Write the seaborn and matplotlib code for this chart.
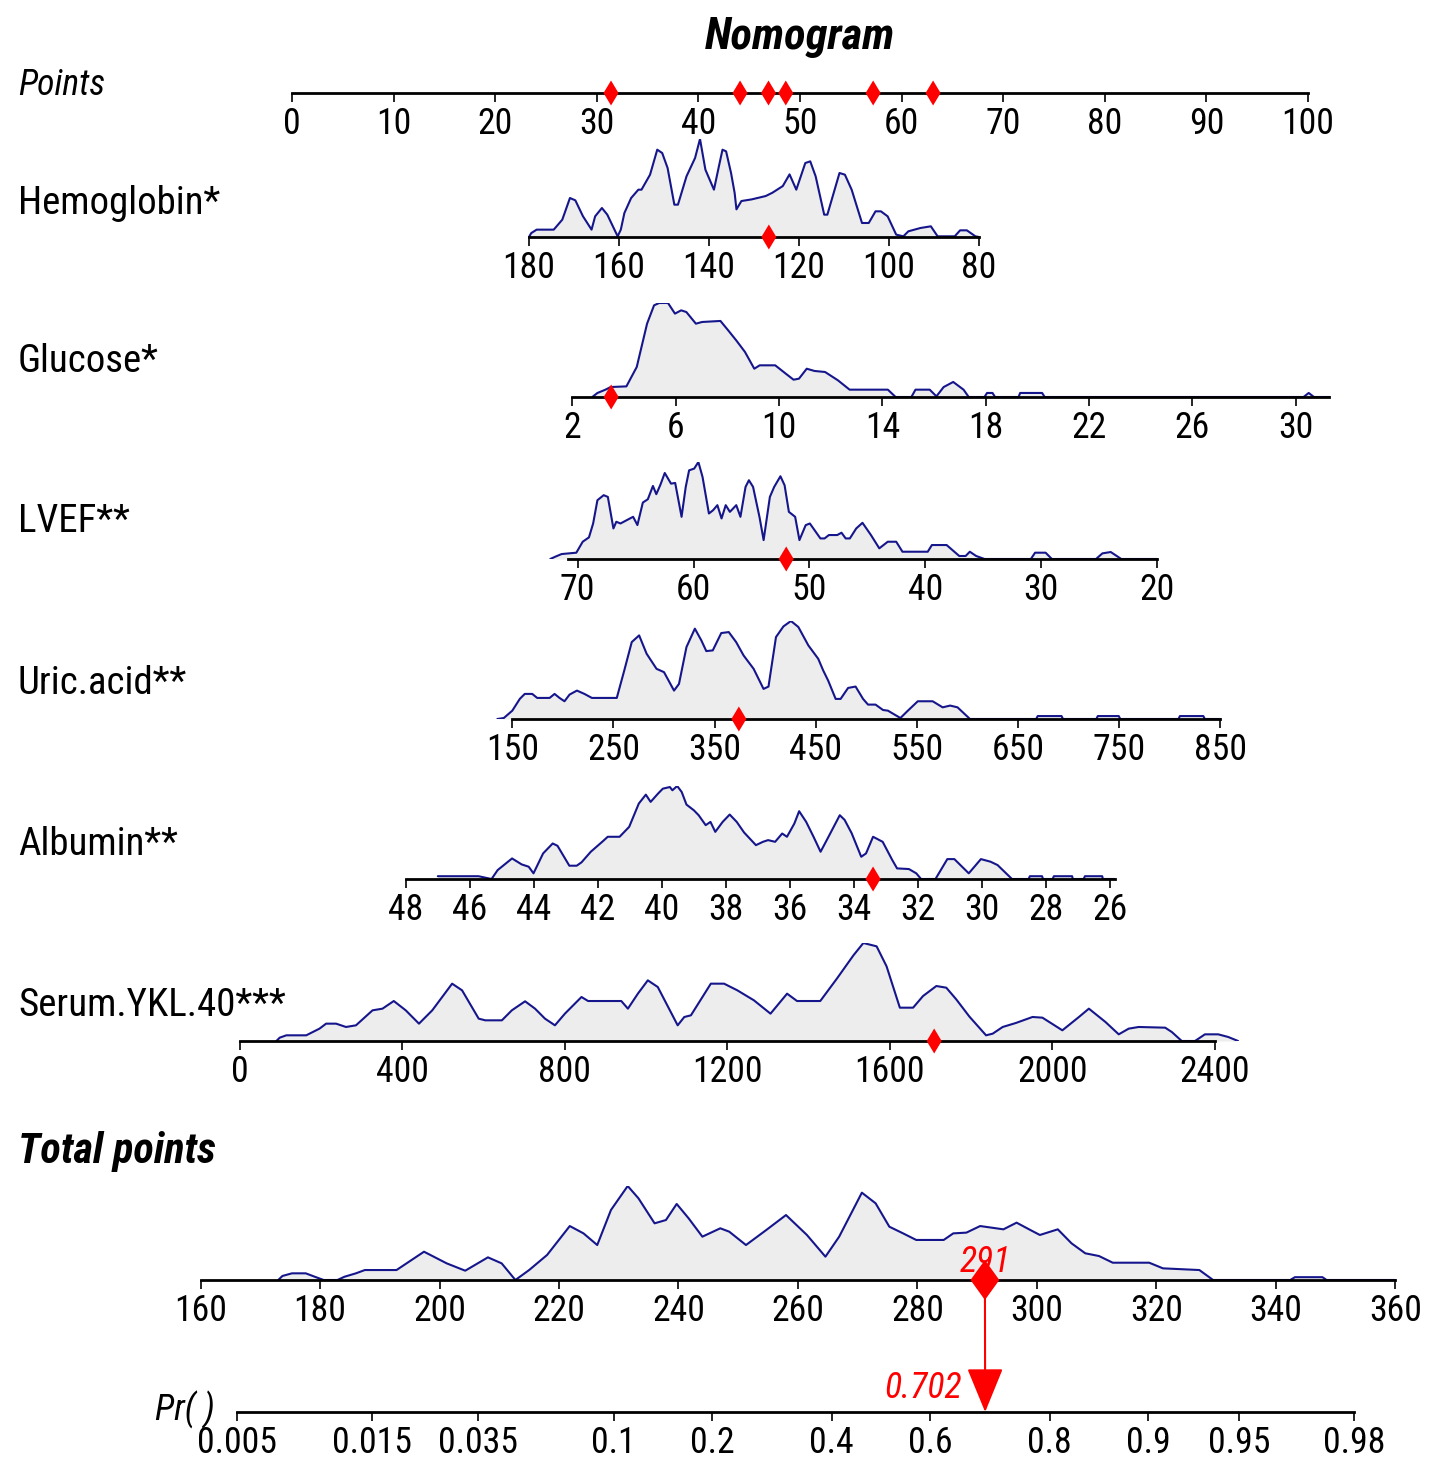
import numpy as np
import matplotlib
matplotlib.use("Agg")
import matplotlib.pyplot as plt
import seaborn as sns
from matplotlib import font_manager
from matplotlib.path import Path
from matplotlib.markers import MarkerStyle
from matplotlib.ticker import NullLocator

# ---- values ----
point_ticks = [0, 10, 20, 30, 40, 50, 60, 70, 80, 90, 100]
patient_points = [46.9, 31.4, 48.6, 44.1, 57.2, 63.1]

hgb_ticks = [180, 160, 140, 120, 100, 80]
hgb_x = [180.0, 179.5, 178.3, 174.5, 172.6, 170.9, 169.7, 168.0, 166.1, 165.3, 163.8, 162.6,
         160.3, 159.6, 158.8, 157.3, 155.7, 155.0, 153.1, 151.5, 150.4, 149.2, 147.7, 146.9,
         145.0, 143.1, 142.0, 140.8, 138.9, 137.8, 137.0, 136.2, 135.1, 134.3, 133.9, 132.8,
         130.5, 127.4, 125.9, 123.6, 122.1, 120.6, 118.6, 117.5, 116.3, 114.4, 113.7, 111.0,
         109.8, 108.3, 106.0, 104.5, 103.0, 101.8, 100.3, 98.4, 96.8, 95.7, 93.0, 90.7,
         89.2, 85.4, 84.2, 82.7, 80.8, 80.0]
hgb_d = [0, 4, 7.5, 7.5, 17.7, 39.8, 37.4, 21.1, 7.5, 21.1, 29.6, 22.8,
         0.7, 7.5, 24.5, 39.8, 48.3, 48.3, 63.6, 89.1, 85.7, 70.4, 33.0, 33.0,
         61.9, 80.6, 100, 68.7, 48.3, 72.1, 89.1, 87.4, 65.3, 44.9, 28.2, 36.7,
         38.4, 41.8, 45.2, 52.0, 63.9, 48.3, 75.5, 77.2, 61.9, 22.8, 22.8, 65.3,
         63.6, 48.3, 14.3, 14.3, 26.2, 26.2, 21.1, 2.4, 0.7, 5.8, 9.2, 10.9,
         0.7, 0.7, 6.8, 6.8, 0.7, 0]
hgb_value = 126.7

glu_ticks = [2, 6, 10, 14, 18, 22, 26, 30]
glu_x = [2.77, 2.97, 3.28, 3.48, 4.09, 4.49, 4.89, 5.16, 5.36, 5.70, 5.97, 6.21, 6.41, 6.78,
         7.02, 7.73, 8.03, 8.34, 8.68, 9.04, 9.25, 9.85, 10.26, 10.56, 10.77, 11.07, 11.37,
         11.78, 12.28, 12.73, 14.21, 14.51, 15.12, 15.28, 15.83, 16.09, 16.37, 16.74, 17.14,
         17.34, 17.95, 18.05, 18.26, 18.36, 19.27, 19.33, 20.18, 20.28, 30.30, 30.50, 30.70, 31.31]
glu_d = [0, 4.3, 7.8, 10.6, 11.3, 31.9, 78.0, 97.5, 100, 100, 88.7, 92.2, 90.4, 78.0,
         79.8, 80.9, 70.9, 60.3, 47.9, 30.1, 33.7, 33.7, 24.8, 18.4, 19.5, 30.1, 27.7,
         26.6, 17.7, 7.8, 7.8, 0, 0, 7.8, 7.8, 0.7, 10.6, 16.0, 7.8,
         0, 0, 4.3, 4.3, 0, 0, 4.3, 4.3, 0, 0, 4.3, 0, 0]
glu_value = 3.5

lvef_ticks = [70, 60, 50, 40, 30, 20]
lvef_x = [72.36, 71.92, 71.38, 70.11, 69.56, 69.02, 68.66, 68.29, 67.75, 67.39, 66.91, 66.66,
          66.30, 65.75, 65.21, 64.84, 64.37, 63.94, 63.50, 63.21, 62.85, 62.48, 61.94, 61.58,
          61.03, 60.67, 60.38, 59.94, 59.58, 59.22, 58.67, 58.31, 57.94, 57.58, 57.22, 56.86,
          56.31, 55.95, 55.51, 55.22, 54.86, 54.31, 53.95, 53.41, 53.04, 52.50, 52.14, 51.77,
          51.23, 50.86, 50.32, 49.96, 49.05, 48.69, 48.32, 47.60, 47.23, 46.87, 46.51, 45.96,
          45.42, 44.69, 43.97, 43.24, 42.51, 41.97, 39.79, 39.43, 38.16, 37.07, 36.52, 36.16,
          35.61, 34.89, 30.89, 30.53, 29.62, 29.08, 25.27, 24.72, 24.00, 23.09, 20.00]
lvef_d = [0, 2.4, 5.1, 6.5, 17.8, 22.3, 36.6, 60.6, 65.8, 64.0, 31.5, 38.4,
          36.6, 40.1, 43.5, 35.0, 58.2, 61.6, 75.3, 66.8, 76.7, 88.7, 77.7, 78.4,
          43.5, 74.3, 91.4, 93.2, 100, 84.6, 46.9, 50.3, 55.5, 41.8, 55.5, 48.6,
          55.5, 43.5, 74.3, 81.2, 74.3, 43.5, 19.5, 64.0, 74.3, 85.3, 76.0, 48.6,
          43.5, 19.5, 34.9, 36.6, 21.2, 21.2, 24.7, 24.7, 27.1, 21.2, 21.2, 31.5,
          37.3, 24.7, 11.0, 17.8, 17.8, 7.5, 7.5, 14.4, 14.4, 3.1, 3.1, 7.5,
          3.1, 0, 0, 6.5, 6.5, 0, 0, 5.8, 7.2, 0, 0]
lvef_value = 52.0

uric_ticks = [150, 250, 350, 450, 550, 650, 750, 850]
uric_x = [135.2, 141.6, 150.0, 157.4, 162.3, 169.7, 174.6, 186.9, 191.8, 196.7, 201.6, 206.6,
          213.9, 221.3, 228.7, 253.3, 260.7, 268.1, 275.4, 282.8, 292.6, 300.0, 309.9, 314.8,
          322.2, 330.5, 336.9, 341.8, 348.2, 356.6, 364.0, 371.3, 378.7, 388.6, 398.4, 403.3,
          410.7, 418.1, 425.5, 432.8, 442.7, 452.5, 457.4, 462.3, 469.7, 474.6, 482.0, 489.4,
          496.8, 501.7, 509.1, 516.5, 521.4, 533.7, 541.1, 550.9, 565.6, 575.5, 582.9, 590.2,
          602.5, 667.9, 669.5, 693.0, 694.5, 727.4, 728.9, 749.6, 751.1, 808.6, 810.1, 833.2,
          834.7, 850.0]
uric_d = [0, 1.0, 8.5, 20.5, 25.6, 25.6, 21.5, 21.5, 25.6, 21.5, 18.1, 24.9,
          29.0, 25.6, 21.5, 21.5, 49.5, 78.5, 85.3, 66.6, 51.2, 47.8, 29.0, 35.8,
          73.4, 92.2, 80.2, 69.3, 70.0, 87.7, 88.7, 78.5, 64.8, 51.2, 30.7, 33.1,
          83.6, 94.5, 100, 93.9, 75.1, 61.4, 49.5, 39.2, 20.5, 20.5, 31.7, 33.1,
          20.5, 14.7, 14.7, 9.2, 8.5, 1.0, 8.5, 18.1, 18.1, 11.9, 13.7, 11.9,
          0, 0, 3, 3, 0, 0, 3, 3, 0, 0, 3, 3,
          0, 0]
uric_value = 374.0

alb_ticks = [48, 46, 44, 42, 40, 38, 36, 34, 32, 30, 28, 26]
alb_x = [47.0, 45.73, 45.32, 45.13, 44.68, 44.38, 44.16, 44.01, 43.71, 43.41, 43.26, 42.89,
         42.66, 42.51, 42.22, 41.84, 41.69, 41.32, 41.02, 40.72, 40.50, 40.35, 40.12, 39.97,
         39.75, 39.67, 39.52, 39.38, 39.23, 39.00, 38.85, 38.63, 38.48, 38.33, 38.10, 37.88,
         37.66, 37.43, 37.06, 36.84, 36.68, 36.46, 36.24, 36.09, 35.86, 35.71, 35.49, 35.26,
         35.04, 34.82, 34.44, 34.29, 34.07, 33.77, 33.62, 33.40, 33.10, 32.80, 32.65, 32.28,
         32.05, 31.90, 31.45, 31.08, 30.86, 30.41, 30.03, 29.73, 29.51, 29.06, 28.54, 28.50,
         28.12, 28.09, 27.79, 27.75, 27.18, 27.16, 26.82, 26.78, 26.24, 26.22, 25.85]
alb_d = [3, 3, 0, 9.6, 22.1, 15.7, 13.2, 6.1, 27.5, 38.2, 35.7, 14.3,
         14.3, 17.9, 29.3, 40.7, 45.4, 45.4, 56.1, 81.1, 90.7, 82.9, 91.8, 97.1,
         98.9, 95.4, 100, 93.6, 80.0, 73.9, 68.6, 57.9, 61.4, 50.7, 61.4, 69.3,
         61.4, 50.0, 36.4, 40.0, 41.8, 40.0, 48.9, 45.4, 59.6, 72.9, 61.4, 45.4,
         29.3, 43.6, 68.6, 63.6, 49.3, 23.9, 27.5, 45.4, 40.0, 20.4, 11.4, 10.7,
         6.1, 0, 0, 21.4, 21.4, 6.1, 21.4, 18.6, 15.0, 0, 0, 3,
         3, 0, 0, 3, 3, 0, 0, 3, 3, 0, 0]
alb_value = 33.4

ykl_ticks = [0, 400, 800, 1200, 1600, 2000, 2400]
ykl_x = [89.8, 98.0, 114.3, 163.3, 195.9, 212.2, 236.7, 261.2, 285.7, 326.5, 351.0, 378.8,
         408.2, 440.8, 473.5, 522.4, 546.9, 587.8, 604.1, 644.9, 669.4, 702.0, 726.5, 751.0,
         775.5, 800.0, 840.8, 857.1, 938.8, 955.1, 979.6, 1004.1, 1028.6, 1077.6, 1093.9, 1110.2,
         1159.2, 1191.8, 1224.5, 1265.3, 1306.1, 1346.9, 1371.4, 1428.6, 1469.4, 1510.2, 1534.7,
         1567.3, 1591.8, 1624.5, 1657.1, 1681.6, 1714.3, 1738.8, 1763.3, 1795.9, 1836.7, 1853.1,
         1877.6, 1910.2, 1951.0, 1975.5, 2024.5, 2065.3, 2089.8, 2130.6, 2163.3, 2187.8, 2212.2,
         2277.6, 2293.9, 2318.4, 2351.0, 2375.5, 2408.2, 2432.7, 2457.1]
ykl_d = [0, 3.4, 5.8, 5.8, 12.6, 17.7, 17.7, 14.3, 16.0, 31.3, 33.0, 40.8,
         31.3, 17.7, 31.3, 58.5, 51.7, 22.8, 21.1, 21.1, 31.3, 40.5, 33.0, 22.8,
         16.0, 27.9, 44.9, 40.8, 40.8, 33.0, 48.3, 61.9, 55.1, 16.0, 24.5, 26.2,
         58.5, 58.5, 51.7, 41.5, 27.9, 48.3, 40.8, 40.8, 63.6, 87.4, 100,
         96.6, 76.2, 34.0, 34.0, 45.9, 56.1, 54.4, 42.5, 24.8, 5.8, 7.5,
         14.3, 18.4, 24.5, 23.8, 10.9, 24.5, 33.0, 19.4, 6.8, 12.6, 14.3,
         13.6, 9.2, 0, 0, 6.8, 6.8, 4.1, 0]
ykl_value = 1709.0

total_ticks = [160, 180, 200, 220, 240, 260, 280, 300, 320, 340, 360]
total_x = [173.0, 173.7, 175.3, 177.6, 179.1, 180.6, 182.9, 184.1, 186.0, 187.5, 192.8, 197.4,
           201.2, 204.3, 208.1, 210.4, 212.7, 215.0, 218.0, 221.8, 224.1, 226.4, 228.7, 231.5,
           233.3, 236.0, 237.9, 239.7, 241.7, 244.0, 247.0, 248.5, 251.3, 254.7, 258.0, 261.5,
           264.6, 266.9, 270.7, 273.0, 275.3, 277.6, 279.8, 284.4, 286.0, 288.2, 290.5, 294.4,
           296.6, 298.9, 300.5, 303.5, 305.8, 308.1, 310.4, 312.7, 318.8, 321.1, 327.2, 329.5,
           342.4, 343.2, 347.8, 348.5, 360.0]
total_d = [0, 4.3, 7.1, 7.1, 3.5, 0, 0, 3.5, 7.1, 10.6, 10.6, 30.1,
           17.7, 9.9, 24.1, 17.7, 0, 10.6, 26.6, 57.4, 49.6, 37.2, 74.5, 100,
           86.9, 60.3, 63.8, 80.9, 65.6, 46.1, 55.0, 51.4, 37.2, 53.2, 69.1, 47.9,
           24.8, 46.1, 92.9, 81.6, 56.7, 49.6, 42.6, 42.6, 49.6, 50.4, 57.4, 53.9,
           61.0, 53.2, 47.9, 53.9, 39.0, 28.4, 25.5, 18.4, 18.4, 12.4, 10.6, 0,
           0, 3, 3, 0, 0]
total_score = 291.3

pr_ticks = [0.005, 0.015, 0.035, 0.1, 0.2, 0.4, 0.6, 0.8, 0.9, 0.95, 0.98]
pr_labels = ["0.005", "0.015", "0.035", "0.1", "0.2", "0.4", "0.6", "0.8", "0.9", "0.95", "0.98"]
pr_value = 0.702

row_names = ["Hemoglobin*", "Glucose*", "LVEF**", "Uric.acid**", "Albumin**", "Serum.YKL.40***"]

# ---- styling ----
sns.set_style("white")


def pick_font():
    ttf = font_manager.fontManager.ttflist
    names = {f.name for f in ttf}
    for p in ["Liberation Sans Narrow", "Roboto Condensed", "Open Sans Condensed",
              "Noto Sans Condensed", "DejaVu Sans Condensed", "Arial Narrow"]:
        if p in names:
            return p, "normal"
    for fam in ["Liberation Sans", "Roboto", "Noto Sans", "Open Sans", "DejaVu Sans"]:
        if any(f.name == fam and str(f.stretch) in ("condensed", "semi-condensed",
                                                     "extra-condensed", "ultra-condensed")
               for f in ttf):
            return fam, "condensed"
    return "Liberation Sans", "normal"


FAM, STRETCH = pick_font()
plt.rcParams["font.family"] = [FAM, "DejaVu Sans"]
plt.rcParams["font.stretch"] = STRETCH
plt.rcParams["text.color"] = "black"

LINE = "#16168C"
FILL = "#EDEDED"
RED = "#FF0000"

small_diamond = MarkerStyle(Path([(0, 1), (0.6, 0), (0, -1), (-0.6, 0), (0, 1)], closed=True))
big_diamond = MarkerStyle(Path([(0, 1), (0.72, 0), (0, -1), (-0.72, 0), (0, 1)], closed=True))

W, H = 1430, 1463
fig = plt.figure(figsize=(W / 100, H / 100), dpi=100)
fig.patch.set_facecolor("white")
renderer = fig.canvas.get_renderer()


def fit(s, target_px, **kw):
    t = fig.text(0, 0, s, fontsize=20, **kw)
    w = t.get_window_extent(renderer).width
    t.remove()
    return 20 * target_px / w


TICK_FS = fit("0.015", 80)
LAB_FS = fit("Hemoglobin*", 202)
TITLE_FS = fit("Nomogram", 190, fontweight="bold", style="italic")
PTS_FS = fit("Points", 87, style="italic")
TOT_FS = fit("Total points", 198, fontweight="bold", style="italic")


def row_axes(baseline, height, v1, p1, v2, p2, ticks):
    ax = fig.add_axes([0, 1 - baseline / H, 1, height / H])
    slope = (v2 - v1) / (p2 - p1)
    ax.set_xlim(v1 - p1 * slope, v1 + (W - p1) * slope)
    ax.set_facecolor("none")
    for s in ["top", "right", "left"]:
        ax.spines[s].set_visible(False)
    ax.spines["bottom"].set_linewidth(2.0)
    ax.spines["bottom"].set_color("black")
    ax.set_yticks([])
    ax.set_xticks(ticks, labels=[str(t) for t in ticks])
    ax.tick_params(axis="x", direction="out", length=6.5, width=1.2, pad=3,
                   labelsize=TICK_FS, colors="black", bottom=True)
    return ax


def density(ax, xs, ds, lo, hi):
    ax.set_ylim(0, 100)
    ax.fill_between(xs, 0, ds, color=FILL, lw=0, zorder=1)
    sns.lineplot(x=xs, y=ds, ax=ax, color=LINE, lw=1.5, sort=False,
                 estimator=None, zorder=2)
    ax.spines["bottom"].set_bounds(lo, hi)
    ax.set_xlabel("")
    ax.set_ylabel("")


def mark(ax, values, marker=small_diamond, s=324):
    sns.scatterplot(x=values, y=[0] * len(values), ax=ax, marker=marker, s=s,
                    color=RED, edgecolor="none", zorder=6, clip_on=False)


# points row
ax_pts = row_axes(93, 40, 0, 292, 100, 1308, point_ticks)
ax_pts.set_ylim(0, 1)
ax_pts.spines["bottom"].set_bounds(0, 100)
mark(ax_pts, patient_points)

ax = row_axes(237, 98, 180, 529, 80, 979, hgb_ticks)
density(ax, hgb_x, hgb_d, 80, 180)
mark(ax, [hgb_value])

ax = row_axes(397, 94, 2, 572.4, 30, 1295.8, glu_ticks)
density(ax, glu_x, glu_d, 2, 31.3)
mark(ax, [glu_value])

ax = row_axes(559, 97, 70, 577.6, 20, 1157.1, lvef_ticks)
density(ax, lvef_x, lvef_d, 20, 70.8)
mark(ax, [lvef_value])

ax = row_axes(719, 98, 150, 512.3, 850, 1220.3, uric_ticks)
density(ax, uric_x, uric_d, 150, 850)
mark(ax, [uric_value])

ax = row_axes(879, 93, 48, 405.8, 26, 1109.9, alb_ticks)
density(ax, alb_x, alb_d, 25.85, 48)
mark(ax, [alb_value])

ax = row_axes(1041, 98, 0, 239.9, 2400, 1214.9, ykl_ticks)
density(ax, ykl_x, ykl_d, 0, 2400)
mark(ax, [ykl_value])

# total points row
ax_tot = row_axes(1280, 94, 160, 200.6, 360, 1395.3, total_ticks)
density(ax_tot, total_x, total_d, 160, 360)
ax_tot.annotate(f"{total_score:.0f}", xy=(total_score, 0), xytext=(0, 13),
                textcoords="offset points", ha="center", va="center",
                color=RED, fontsize=TICK_FS, style="italic", zorder=4)
mark(ax_tot, [total_score], marker=big_diamond, s=830)

# probability row on a logit scale
ax_pr = fig.add_axes([0, 1 - 1412 / H, 1, 60 / H])
lg = lambda p: np.log(p / (1 - p))
ex = lambda z: 1 / (1 + np.exp(-z))
slope = (lg(0.98) - lg(0.005)) / (1354.3 - 237.1)
ax_pr.set_xscale("logit")
ax_pr.set_xlim(ex(lg(0.005) - 237.1 * slope), ex(lg(0.005) + (W - 237.1) * slope))
ax_pr.set_ylim(0, 1)
ax_pr.set_facecolor("none")
for s in ["top", "right", "left"]:
    ax_pr.spines[s].set_visible(False)
ax_pr.spines["bottom"].set_linewidth(2.0)
ax_pr.spines["bottom"].set_color("black")
ax_pr.spines["bottom"].set_bounds(0.005, 0.98)
ax_pr.set_yticks([])
ax_pr.set_xticks(pr_ticks, labels=pr_labels)
ax_pr.xaxis.set_minor_locator(NullLocator())
ax_pr.tick_params(axis="x", direction="out", length=6.5, width=1.2, pad=3,
                  labelsize=TICK_FS, colors="black", bottom=True)
ax_pr.annotate("", xy=(pr_value, 0), xycoords="data",
               xytext=(total_score, 0), textcoords=ax_tot.transData,
               arrowprops=dict(arrowstyle="-|>,head_length=1.0,head_width=0.41",
                               color=RED, lw=1.5, shrinkA=0, shrinkB=0,
                               mutation_scale=28))
ax_pr.annotate(f"{pr_value:.3f}", xy=(pr_value, 0), xytext=(-17, 17),
               textcoords="offset points", ha="right", va="center",
               color=RED, fontsize=TICK_FS, style="italic")

# titles and row labels
fig.text(800 / W, 1 - 37 / H, "Nomogram", ha="center", va="center",
         fontsize=TITLE_FS, fontweight="bold", style="italic")
fig.text(18 / W, 1 - 85 / H, "Points", ha="left", va="center",
         fontsize=PTS_FS, style="italic")
row_y = [203, 362, 522, 683, 845, 1005]
for name, yy in zip(row_names, row_y):
    fig.text(18 / W, 1 - yy / H, name, ha="left", va="center", fontsize=LAB_FS)
fig.text(18 / W, 1 - 1152 / H, "Total points", ha="left", va="center",
         fontsize=TOT_FS, fontweight="bold", style="italic")
fig.text(155 / W, 1 - 1410 / H, "Pr( )", ha="left", va="center",
         fontsize=TICK_FS, style="italic")

fig.savefig("out.png", dpi=100)
